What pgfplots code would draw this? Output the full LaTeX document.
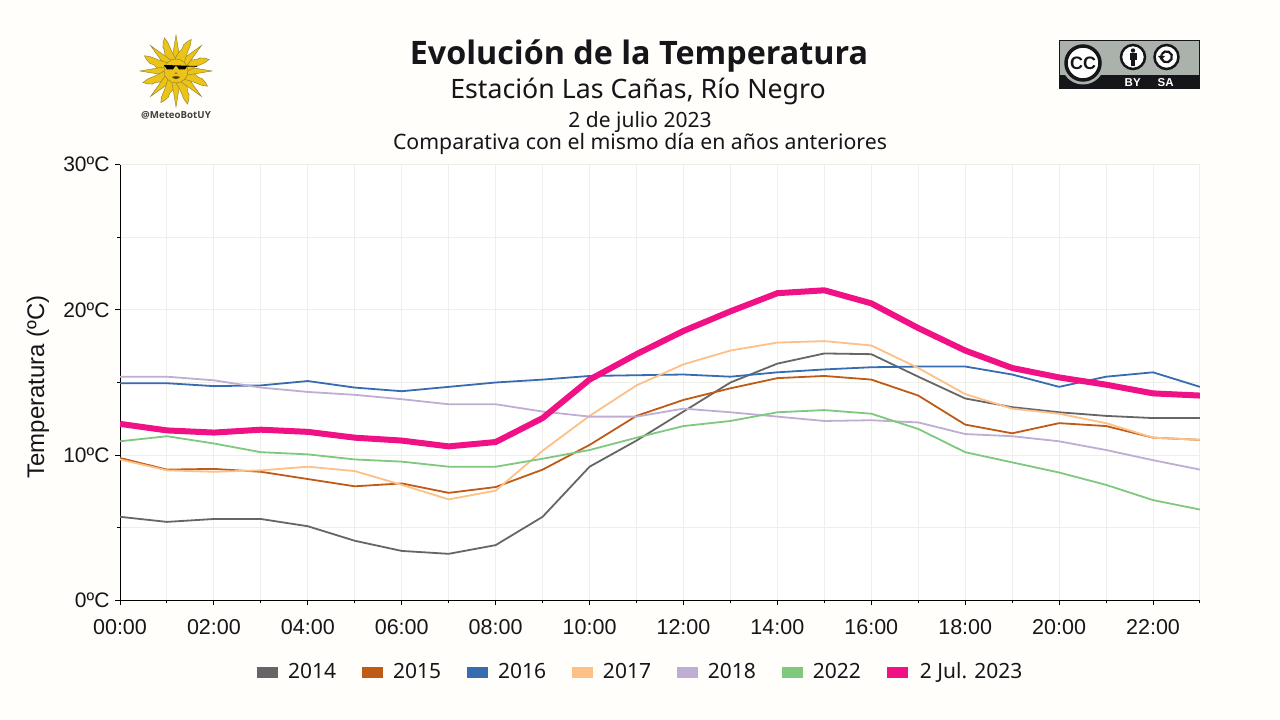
\documentclass[border=0pt]{standalone}
\usepackage{fontspec}
\usepackage{pgfplots}
\pgfplotsset{compat=1.18}
\setmainfont{Liberation Sans}
\newfontfamily\noto{Noto Sans}
\newfontfamily\opensans{Open Sans}
\definecolor{bg}{HTML}{FFFEFA}
\definecolor{gridc}{HTML}{EFEFE9}
\definecolor{txt}{HTML}{16161A}
\definecolor{c14}{HTML}{666666}
\definecolor{c15}{HTML}{BF5B17}
\definecolor{c16}{HTML}{386CB0}
\definecolor{c17}{HTML}{FDC086}
\definecolor{c18}{HTML}{BEAED4}
\definecolor{c22}{HTML}{7FC97F}
\definecolor{c23}{HTML}{F0027F}
\definecolor{sun}{HTML}{EBC417}
\definecolor{sunl}{HTML}{8A7A30}
\definecolor{ccg}{HTML}{AAB2AB}
\newcommand{\fs}[1]{\fontsize{#1}{#1}\selectfont}
\begin{document}
\begin{tikzpicture}[x=1pt,y=1pt]
\fill[bg] (0,0) rectangle (1280,720);

\begin{axis}[
  at={(120pt,119.7pt)}, anchor=south west,
  scale only axis, width=1080pt, height=435.6pt,
  xmin=0, xmax=23, ymin=0, ymax=30,
  axis background/.style={fill=white},
  axis x line*=bottom, axis y line*=left,
  axis line style={black,line width=1pt},
  tick align=outside,
  major tick length=5pt, minor tick length=3pt,
  tick style={black,line width=1pt},
  xtick={0,2,...,22}, minor xtick={1,3,...,23},
  xticklabels={00:00,02:00,04:00,06:00,08:00,10:00,12:00,14:00,16:00,18:00,20:00,22:00},
  ytick={0,10,20,30}, minor ytick={5,15,25},
  yticklabels={0ºC,10ºC,20ºC,30ºC},
  grid=both,
  grid style={gridc,line width=1pt},
  minor grid style={gridc,line width=1pt},
  x tick label style={font=\fs{21.5}, text=txt, yshift=-11pt},
  y tick label style={font=\fs{21}, text=txt, xshift=-2pt},
  every axis y label/.style={at={(axis description cs:-0.0759,0.49)},anchor=center,rotate=90},
  ylabel={Temperatura (ºC)},
  ylabel style={font=\fs{24}, text=txt},
  legend style={
    at={(axis description cs:0.4823,-0.1638)}, anchor=center,
    draw=none, fill=none, font=\noto\fs{21}, text=txt,
    legend columns=-1,
    /tikz/every even column/.append style={column sep=24pt},
  },
  legend image code/.code={\fill[#1,draw=none,opacity=1] (0pt,-6.75pt) rectangle (21pt,4.75pt); \path (28pt,0pt);},
]
\addplot[c14,line width=1.8pt] coordinates {(0,5.75)(1,5.4)(2,5.6)(3,5.6)(4,5.1)(5,4.1)(6,3.4)(7,3.2)(8,3.8)(9,5.75)(10,9.2)(11,11)(12,13)(13,15)(14,16.3)(15,17)(16,16.95)(17,15.4)(18,13.9)(19,13.3)(20,12.95)(21,12.7)(22,12.55)(23,12.55)};
\addplot[c15,line width=1.8pt] coordinates {(0,9.8)(1,9)(2,9.05)(3,8.85)(4,8.35)(5,7.85)(6,8.05)(7,7.4)(8,7.8)(9,9)(10,10.7)(11,12.7)(12,13.8)(13,14.6)(14,15.3)(15,15.45)(16,15.2)(17,14.1)(18,12.1)(19,11.5)(20,12.2)(21,12)(22,11.2)(23,11.05)};
\addplot[c16,line width=1.8pt] coordinates {(0,14.95)(1,14.95)(2,14.75)(3,14.8)(4,15.1)(5,14.65)(6,14.4)(7,14.7)(8,15)(9,15.2)(10,15.45)(11,15.5)(12,15.55)(13,15.4)(14,15.7)(15,15.9)(16,16.05)(17,16.1)(18,16.1)(19,15.55)(20,14.7)(21,15.4)(22,15.7)(23,14.7)};
\addplot[c17,line width=1.8pt] coordinates {(0,9.7)(1,8.95)(2,8.85)(3,8.95)(4,9.2)(5,8.9)(6,7.95)(7,6.95)(8,7.55)(9,10.3)(10,12.7)(11,14.8)(12,16.25)(13,17.2)(14,17.75)(15,17.85)(16,17.55)(17,16)(18,14.2)(19,13.2)(20,12.85)(21,12.2)(22,11.2)(23,11.05)};
\addplot[c18,line width=1.8pt] coordinates {(0,15.4)(1,15.4)(2,15.15)(3,14.65)(4,14.35)(5,14.15)(6,13.85)(7,13.5)(8,13.5)(9,13)(10,12.65)(11,12.65)(12,13.2)(13,12.95)(14,12.65)(15,12.35)(16,12.4)(17,12.25)(18,11.45)(19,11.3)(20,10.95)(21,10.35)(22,9.65)(23,9)};
\addplot[c22,line width=1.8pt] coordinates {(0,10.95)(1,11.3)(2,10.8)(3,10.2)(4,10.05)(5,9.7)(6,9.55)(7,9.2)(8,9.2)(9,9.75)(10,10.35)(11,11.2)(12,12)(13,12.35)(14,12.95)(15,13.1)(16,12.85)(17,11.8)(18,10.2)(19,9.5)(20,8.8)(21,7.95)(22,6.9)(23,6.25)};
\addplot[c23!94!white,line width=6pt] coordinates {(0,12.15)(1,11.7)(2,11.55)(3,11.75)(4,11.6)(5,11.2)(6,11)(7,10.6)(8,10.9)(9,12.55)(10,15.2)(11,16.95)(12,18.55)(13,19.9)(14,21.15)(15,21.35)(16,20.45)(17,18.75)(18,17.2)(19,16)(20,15.35)(21,14.85)(22,14.25)(23,14.1)};
\legend{2014,2015,2016,2017,2018,2022,2 Jul. 2023}
\end{axis}

% everything below in reference pixels, y downwards
\begin{scope}[yshift=720pt,y=-1pt]
  % titles
  \node[text=txt,font=\opensans\bfseries\fs{32.3}] at (639,56) {Evolución de la Temperatura};
  \node[text=txt,font=\noto\fs{26.7}] at (638,91) {Estación Las Cañas, Río Negro};
  \node[text=txt,font=\noto\fs{21}] at (640,122) {2 de julio 2023};
  \node[text=txt,font=\noto\fs{21.25}] at (640,144) {Comparativa con el mismo día en años anteriores};

  % sun logo
  \begin{scope}[shift={(176,71)}]
    \foreach \a in {0,45,...,315} {
      \filldraw[rotate=\a,fill=sun,draw=sunl,line width=.4pt] (-4.5,-9) -- (0,-36) -- (4.5,-9) -- cycle;
      \filldraw[rotate=\a+22.5,fill=sun,draw=sunl,line width=.4pt]
        (-5,-9) .. controls (-7,-18) and (-1,-22) .. (-3,-27)
        .. controls (-2,-30) and (0,-33) .. (2,-35)
        .. controls (5,-28) and (2,-22) .. (5,-9) -- cycle;
    }
    \filldraw[fill=sun,draw=sunl,line width=.4pt] (0,0) circle (12);
    \fill[black] (-12,-6) -- (21,-5) -- (21,-4.2) -- (11,-4.5) -- (9,-1.5) -- (3,-1.5) -- (1,-4.5) -- (-1,-4.5) -- (-3,-1.5) -- (-9,-1.5) -- (-11,-4.5) -- (-12,-5) -- cycle;
    \fill[sunl] (-1.5,3) -- (1.5,3) -- (0,1) -- cycle;
    \fill[black!70!sun] (-4,6) .. controls (-2,5) and (2,5) .. (4,6) .. controls (2,8.5) and (-2,8.5) .. (-4,6) -- cycle;
  \end{scope}
  \node[text=black!75,font=\opensans\bfseries\fs{9.7}] at (176,115) {@MeteoBotUY};

  % cc by-sa badge
  \fill[ccg] (1059,40) rectangle (1200,75);
  \fill[txt] (1059,75) rectangle (1200,89);
  \draw[txt,line width=1pt] (1059.5,40.5) rectangle (1199.5,88.5);
  \fill[ccg] (1083,63) circle (21.5);
  \filldraw[fill=white,draw=txt,line width=3.5pt] (1083,63) circle (17);
  \node[text=txt,font=\bfseries\fs{18}] at (1083,63.5) {CC};
  \filldraw[fill=white,draw=txt,line width=2.5pt] (1133,57) circle (12);
  \fill[txt] (1133,50.5) circle (2.2);
  \fill[txt] (1129.5,53.5) rectangle (1136.5,60.5);
  \fill[txt] (1131,60.5) rectangle (1135,66.5);
  \filldraw[fill=white,draw=txt,line width=2.5pt] (1166.5,57) circle (12);
  \draw[txt,line width=2.2pt] (1161.5,54.5) arc[start angle=205,end angle=-150,radius=5.5];
  \fill[txt] (1158,56) -- (1165,56) -- (1161.5,60) -- cycle;
  \node[text=white,font=\bfseries\fs{11.5}] at (1132.7,82.3) {BY};
  \node[text=white,font=\bfseries\fs{11.5}] at (1165.7,82.3) {SA};
\end{scope}
\end{tikzpicture}
\end{document}
